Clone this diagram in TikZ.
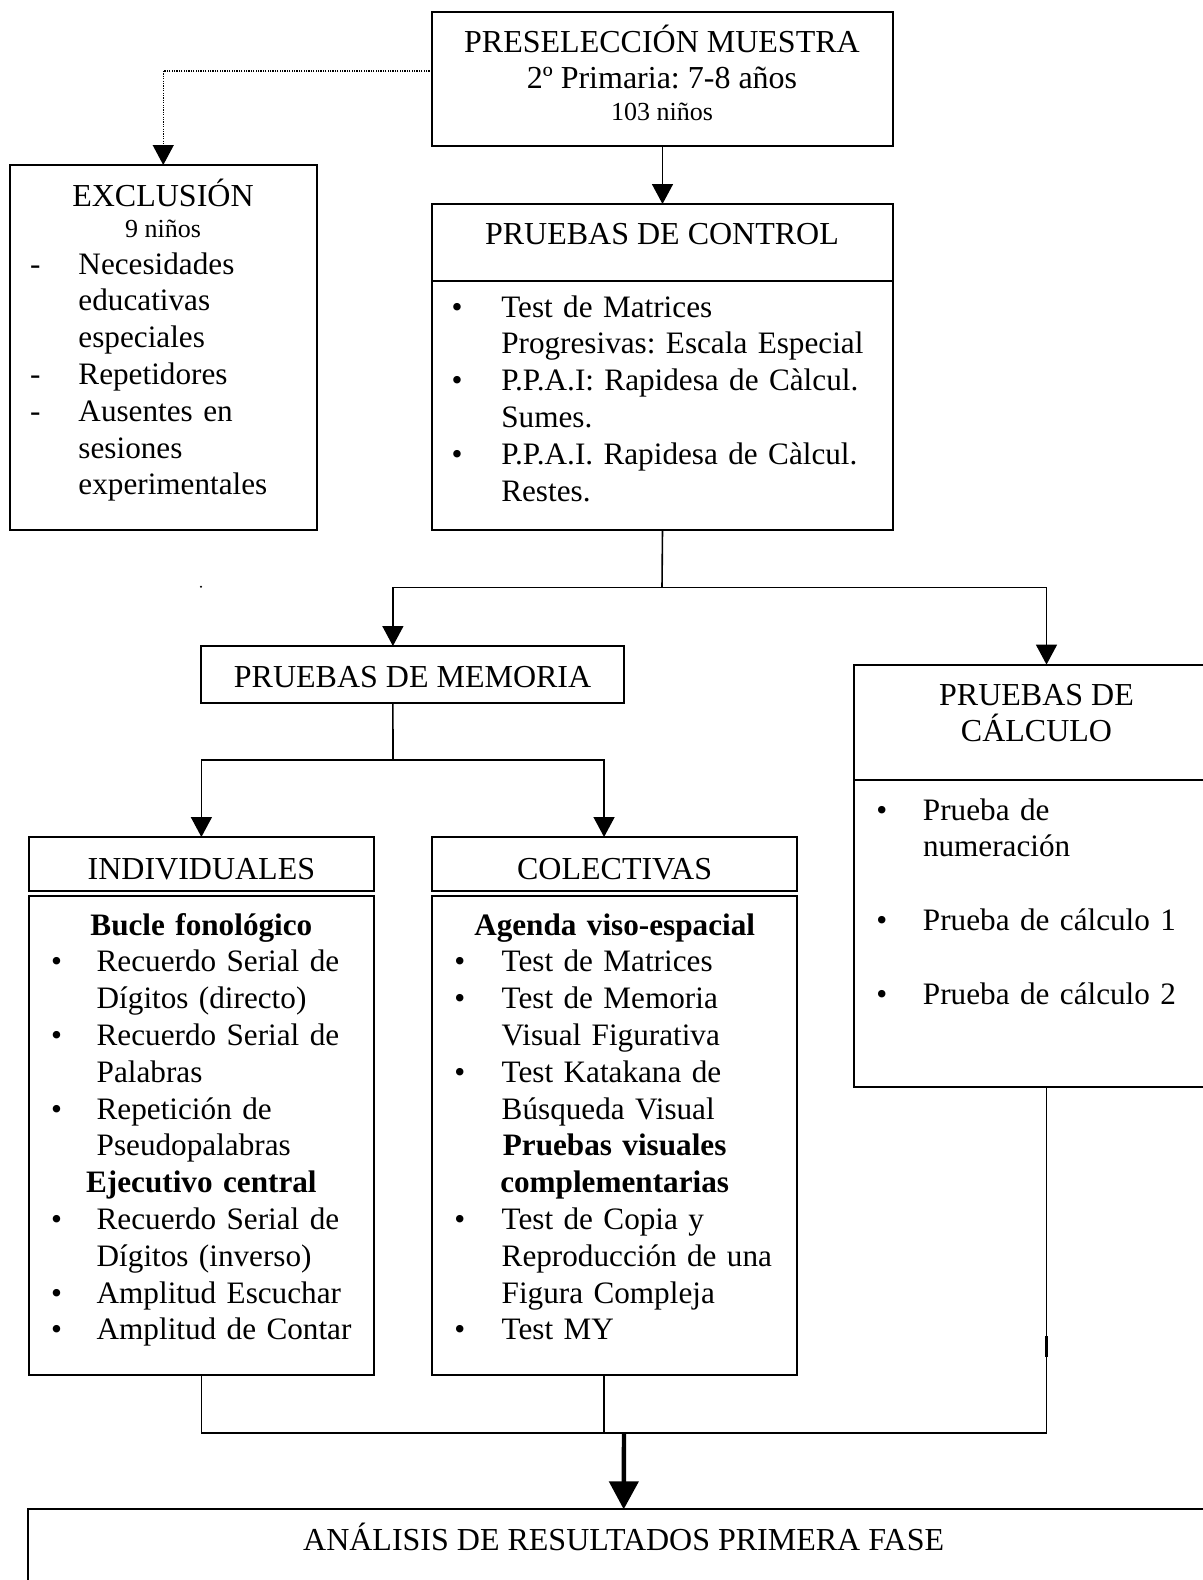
\documentclass[tikz,border=0pt]{standalone}
\usepackage{fontspec}
\setmainfont{Liberation Serif}
\usetikzlibrary{arrows.meta}
\frenchspacing
\newlength\hw
\newcommand\bl{\makebox[\hw][l]{\textbullet}}
\newcommand\dl{\makebox[\hw][l]{-}}
\newcommand\cl{\hspace*{\hw}}
\tikzset{
  box/.style={draw, line width=1pt, inner sep=0pt, outer sep=0pt, anchor=north west},
  conn/.style={line width=0.8pt},
  arr/.style={conn, -{Triangle[width=10.5pt,length=10pt]}},
  bigarr/.style={line width=2.2pt, -{Triangle[width=14.5pt,length=14pt]}},
  dots/.style={line width=0.6pt, dash pattern=on 0.6pt off 0.6pt, -{Triangle[width=10.5pt,length=10pt]}},
  txt/.style={inner sep=0pt, outer sep=0pt, font=\fontsize{16pt}{18.4pt}\selectfont},
  sml/.style={font=\fontsize{13pt}{15pt}\selectfont},
  title/.style={txt, anchor=base},
  list/.style={txt, anchor=base west, align=left, font=\fontsize{15.6pt}{18.4pt}\selectfont},
}
\begin{document}
\begin{tikzpicture}[x=0.5pt, y=-0.5pt]
\useasboundingbox (0,0) rectangle (1203,1580);
\fill[white] (0,0) rectangle (1203,1580);
\begin{scope}
\clip (0,0) rectangle (1203,1580);

% boxes
\node[box, minimum width=230.5pt, minimum height=67pt] (pre) at (432,12) {};
\node[box, minimum width=153.75pt, minimum height=182.5pt] (exBox) at (9.5,165) {};
\node[box, minimum width=230.5pt, minimum height=38.3pt] (ctrlH) at (432,204) {};
\node[box, minimum width=230.5pt, minimum height=124.7pt] (ctrl) at (432,280.6) {};
\node[box, minimum width=211.5pt, minimum height=28.5pt] (memo) at (201,646) {};
\node[box, minimum width=182.5pt, minimum height=57.5pt] (calcH) at (854,664.6) {};
\node[box, minimum width=182.5pt, minimum height=153.7pt] (calc) at (854,779.6) {};
\node[box, minimum width=172.9pt, minimum height=27.2pt] (indivH) at (28.5,837) {};
\node[box, minimum width=172.9pt, minimum height=239.45pt] (indiv) at (28.5,895.7) {};
\node[box, minimum width=182.35pt, minimum height=27.2pt] (colecH) at (432.3,837) {};
\node[box, minimum width=182.35pt, minimum height=239.45pt] (colec) at (432.3,895.7) {};
\node[box, minimum width=595.3pt, minimum height=50pt] (anal) at (28.4,1509.3) {};

% texts
\node[title] (preT1) at (662,52) {PRESELECCIÓN MUESTRA};
\node[title] (preT2) at (662,88) {2º Primaria: 7-8 años};
\node[title, sml] (preT3) at (662,120) {103 niños};

\node[title] (exT1) at (163,206.5) {EXCLUSIÓN};
\node[title, sml] (exT2) at (163,237.6) {9 niños};
\node[list, text width=143pt] (exL) at (30,274) {\setlength\hw{24.25pt}%
\dl Necesidades\\ \cl educativas\\ \cl especiales\\ \dl Repetidores\\
\dl Ausentes en\\ \cl sesiones\\ \cl experimentales};

\node[title] (ctT) at (662,244.5) {PRUEBAS DE CONTROL};
\node[list, text width=220pt] (ctL) at (451.7,317) {\setlength\hw{24.8pt}%
\bl Test de Matrices\\ \cl Progresivas: Escala Especial\\
\bl P.P.A.I: Rapidesa de Càlcul.\\ \cl Sumes.\\
\bl P.P.A.I. Rapidesa de Càlcul.\\ \cl Restes.};

\node[title] (meT) at (412.6,687) {PRUEBAS DE MEMORIA};

\node[title] (caT1) at (1036.5,705) {PRUEBAS DE};
\node[title] (caT2) at (1036.5,741) {CÁLCULO};
\node[list, text width=160pt] (caL) at (876.4,820) {\setlength\hw{23.3pt}%
\bl Prueba de\\ \cl numeración\\[18.4pt] \bl Prueba de cálculo 1\\[18.4pt]
\bl Prueba de cálculo 2};

\node[title] (inT) at (201.4,879) {INDIVIDUALES};
\node[list, text width=161pt] (inL) at (51,935) {\setlength\hw{22.85pt}%
\makebox[150.4pt]{\textbf{Bucle fonológico}}\\
\bl Recuerdo Serial de\\ \cl Dígitos (directo)\\
\bl Recuerdo Serial de\\ \cl Palabras\\
\bl Repetición de\\ \cl Pseudopalabras\\
\makebox[150.4pt]{\textbf{Ejecutivo central}}\\
\bl Recuerdo Serial de\\ \cl Dígitos (inverso)\\
\bl Amplitud Escuchar\\
\bl Amplitud de Contar};

\node[title] (coT) at (614.6,879) {COLECTIVAS};
\node[list, text width=171pt] (coL) at (454.4,935) {\setlength\hw{23.65pt}%
\makebox[160.25pt]{\textbf{Agenda viso-espacial}}\\
\bl Test de Matrices\\
\bl Test de Memoria\\ \cl Visual Figurativa\\
\bl Test Katakana de\\ \cl Búsqueda Visual\\
\makebox[160.25pt]{\textbf{Pruebas visuales}}\\
\makebox[160.25pt]{\textbf{complementarias}}\\
\bl Test de Copia y\\ \cl Reproducción de una\\ \cl Figura Compleja\\
\bl Test MY};

\node[title] (anT) at (623.7,1550) {ANÁLISIS DE RESULTADOS PRIMERA FASE};

% connectors
\draw[dots] ([yshift=4pt]pre.west) -| (exBox.north);
\draw[arr] (pre.south) -- (ctrlH.north);

\coordinate (j1) at (662,587.5);
\draw[conn] (ctrl.south) -- (j1);
\draw[arr] (j1) -| ([xshift=-9.8pt]memo.north);
\draw[arr] (j1) -| ([xshift=5pt]calcH.north);

\coordinate (j2) at (393,760);
\draw[conn] ([xshift=-9.8pt]memo.south) -- (j2);
\draw[arr] (j2) -| (indivH.north);
\draw[arr] (j2) -| ([xshift=-5.3pt]colecH.north);

\coordinate (m) at (624,1432.7);
\coordinate (coB) at ([xshift=-5.3pt]colec.south);
\coordinate (caB) at ([xshift=5pt]calc.south);
\draw[conn] (indiv.south) |- (m);
\draw[conn] (caB) |- (m);
\draw[conn] (coB) -- (coB |- m);
\draw[bigarr] (m) -- (anal.north);

% small marks
\draw[line width=1.8pt] (caB |- 0,1336) -- (caB |- 0,1357);
\fill (201,586.7) circle[radius=0.6pt];
\end{scope}
\end{tikzpicture}
\end{document}
